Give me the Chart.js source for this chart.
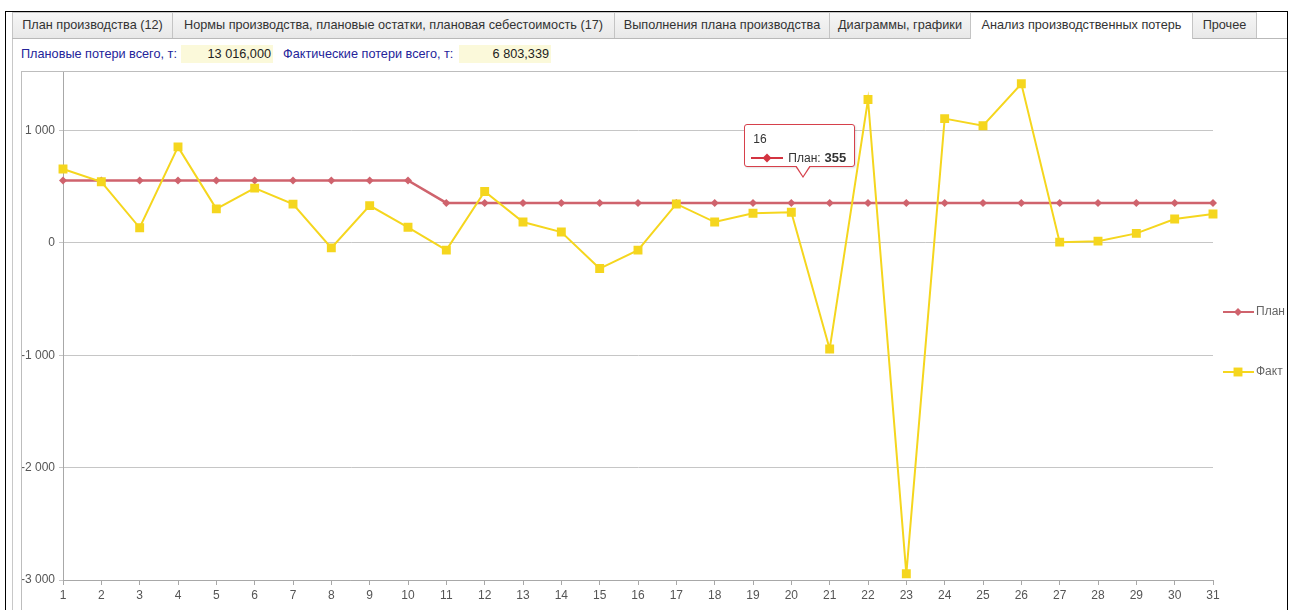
<!DOCTYPE html>
<html>
<head>
<meta charset="utf-8">
<script src="https://cdn.jsdelivr.net/npm/chart.js@4.4.1/dist/chart.umd.min.js"></script>
<style>
  body { margin: 0; background: #fff; font-family: "Liberation Sans", Arial, sans-serif; font-size: 12.7px; overflow: hidden; }
  #frame { position: absolute; left: 5px; top: 11px; width: 1281px; height: 640px; border: 1px solid #000; border-bottom: none; }
  .tab { position: absolute; top: 12px; height: 25px; line-height: 25px; border: 1px solid #c4c4c4; border-bottom: none;
         background: linear-gradient(#f6f6f6, #e8e8e8); color: #333; text-align: center; box-sizing: content-box; }
  .tab.active { background: #fff; height: 26px; z-index: 2; }
  #tabline { position: absolute; left: 12px; top: 38px; width: 1275px; border-top: 1px solid #b9b9b9; }
  #pageleft { position: absolute; left: 12px; top: 38px; height: 600px; border-left: 1px solid #c8c8c8; }
  .lbl { position: absolute; top: 46px; line-height: 17px; color: #24249a; }
  .fld { position: absolute; top: 45px; height: 18px; line-height: 18px; width: 90px; padding-right: 2px; text-align: right;
         background: #fbf9da; color: #222; }
  #panel { position: absolute; left: 21px; top: 71px; border-left: 1px solid #bdbdbd; border-top: 1px solid #bdbdbd; }
  #panel canvas { display: block; }
  #tip { position: absolute; display: none; width: 109px; height: 41px; border: 1px solid #d6404b; border-radius: 3px;
         background: #fff; color: #333; font-size: 12px; box-shadow: 1px 1px 2px rgba(0,0,0,0.12); z-index: 5; }
  #tip .t { position: absolute; left: 8px; top: 7px; line-height: 14px; }
  #tip .r { position: absolute; left: 6px; top: 25px; height: 16px; display: flex; align-items: center; white-space: nowrap; }
  #tip .sw { width: 32px; height: 10px; margin-right: 5px; }
  #tip .v { font-size: 13px; margin-left: 4px; }
  #tip .caret, #tip .caret-in { position: absolute; width: 0; height: 0; border-style: solid; border-color: transparent; }
  #tip .caret { left: 50px; top: 41px; border-width: 12px 8px 0 8px; border-top-color: #d6404b; }
  #tip .caret-in { left: 51px; top: 40px; border-width: 11px 7px 0 7px; border-top-color: #fff; }
</style>
</head>
<body>
<div id="frame"></div>
<div id="pageleft"></div>
<div id="tabline"></div>
<div class="tab" style="left:12px;width:159px;">План производства (12)</div>
<div class="tab" style="left:172px;width:441px;">Нормы производства, плановые остатки, плановая себестоимость (17)</div>
<div class="tab" style="left:614px;width:214px;">Выполнения плана производства</div>
<div class="tab" style="left:829px;width:140px;">Диаграммы, графики</div>
<div class="tab active" style="left:970px;width:221px;">Анализ производственных потерь</div>
<div class="tab" style="left:1192px;width:63px;">Прочее</div>

<div class="lbl" style="left:21px;">Плановые потери всего, т:</div>
<div class="fld" style="left:181px;">13 016,000</div>
<div class="lbl" style="left:283px;">Фактические потери всего, т:</div>
<div class="fld" style="left:459px;">6 803,339</div>

<div id="panel">
  <canvas id="lossChart" width="1265" height="538"></canvas>
  <div id="tip"><div class="t"></div><div class="r"><canvas class="sw" width="32" height="10"></canvas><span class="n"></span><b class="v"></b></div><i class="caret"></i><i class="caret-in"></i></div>
</div>

<script>
const days = ['1','2','3','4','5','6','7','8','9','10','11','12','13','14','15','16',
              '17','18','19','20','21','22','23','24','25','26','27','28','29','30','31'];
const planLoss = [555, 555, 555, 555, 555, 555, 555, 555, 555, 555,
                  355, 355, 355, 355, 355, 355, 355, 355, 355, 355,
                  355, 355, 355, 355, 355, 355, 355, 355, 355, 355, 355];
const factLoss = [657, 543, 134, 854, 302, 487, 344, -45, 331, 138,
                  -65, 457, 185, 96, -229, -65, 346, 185, 263, 272,
                  -945, 1275, -2945, 1105, 1042, 1415, 6, 15, 84, 212, 257];
const yTicks = [-3000, -2000, -1000, 0, 1000];

function fmt(v) {
  const s = String(Math.abs(Math.round(v))).replace(/\B(?=(\d{3})+(?!\d))/g, ' ');
  return (v < 0 ? '-' : '') + s;
}

Chart.defaults.font.family = '"Liberation Sans", Arial, sans-serif';
Chart.defaults.font.size = 12;

// tooltip sits where it was left in the screenshot
Chart.Tooltip.positioners.pinned = function (items) {
  if (!items.length) return false;
  const c = this.chart;
  return { x: c.scales.x.getPixelForValue(19) + 12, y: items[0].element.y - 24 };
};

function drawTip(context) {
  const { chart, tooltip } = context;
  const el = document.getElementById('tip');
  if (tooltip.opacity === 0 || !tooltip.dataPoints || !tooltip.dataPoints.length) { el.style.display = 'none'; return; }
  const dp = tooltip.dataPoints[0];
  const ds = dp.dataset;
  el.querySelector('.t').textContent = tooltip.title[0];
  el.querySelector('.n').textContent = ds.label + ':';
  el.querySelector('.v').textContent = fmt(dp.parsed.y);
  const sw = el.querySelector('.sw').getContext('2d');
  sw.clearRect(0, 0, 32, 10);
  sw.strokeStyle = '#d33441'; sw.lineWidth = 2;
  sw.beginPath(); sw.moveTo(0, 5); sw.lineTo(32, 5); sw.stroke();
  sw.fillStyle = '#d33441';
  Chart.helpers.drawPoint(sw, { pointStyle: ds.pointStyle, radius: 4.5, borderWidth: 0 }, 16, 5);
  el.style.left = (tooltip.caretX - 59) + 'px';
  el.style.top = (tooltip.caretY - 55) + 'px';
  el.style.display = 'block';
}

const sideLegend = {
  id: 'sideLegend',
  afterDraw(chart) {
    const ctx = chart.ctx, area = chart.chartArea;
    const rows = [240, 300];
    chart.data.datasets.forEach((ds, i) => {
      const x0 = area.right + 10, y = rows[i];
      ctx.save();
      ctx.strokeStyle = ds.borderColor;
      ctx.lineWidth = 2;
      ctx.beginPath(); ctx.moveTo(x0, y); ctx.lineTo(x0 + 31, y); ctx.stroke();
      ctx.fillStyle = ds.pointBackgroundColor;
      Chart.helpers.drawPoint(ctx, { pointStyle: ds.pointStyle, radius: ds.pointRadius, borderWidth: 0 }, x0 + 15, y);
      ctx.fillStyle = '#666';
      ctx.font = '12px "Liberation Sans", Arial, sans-serif';
      ctx.textBaseline = 'middle';
      ctx.fillText(ds.label, x0 + 33, y);
      ctx.restore();
    });
  }
};

const chart = new Chart(document.getElementById('lossChart'), {
  type: 'line',
  data: {
    labels: days,
    datasets: [{
      label: 'План',
      data: planLoss,
      borderColor: '#cf636d',
      backgroundColor: '#cf636d',
      pointBackgroundColor: '#cf636d',
      borderWidth: 2.5,
      pointStyle: 'rectRot',
      pointRadius: 4,
      pointBorderWidth: 0,
      tension: 0,
      order: 1
    }, {
      label: 'Факт',
      data: factLoss,
      borderColor: '#f5d61e',
      backgroundColor: '#f5d61e',
      pointBackgroundColor: '#f5d61e',
      borderWidth: 2,
      pointStyle: 'rect',
      pointRadius: 6.3,
      pointBorderWidth: 0,
      tension: 0,
      order: 0
    }]
  },
  options: {
    responsive: false,
    animation: false,
    events: [],
    layout: { autoPadding: false, padding: { left: 0, top: 0, right: 74, bottom: 0 } },
    plugins: {
      legend: { display: false },
      tooltip: { enabled: false, external: drawTip, position: 'pinned', mode: 'nearest' }
    },
    scales: {
      x: {
        offset: false,
        grid: { drawOnChartArea: false, tickLength: 5, color: '#a8a8a8' },
        border: { color: '#a8a8a8' },
        ticks: { color: '#555', padding: 3, maxRotation: 0, autoSkip: false },
        afterFit(s) { s.height = 30; s.paddingLeft = 0; s.paddingRight = 0; }
      },
      y: {
        min: -3000,
        max: 1520,
        grid: { color: '#c6c6c6', tickLength: 4 },
        border: { color: '#a8a8a8' },
        ticks: { color: '#555', padding: 4, stepSize: 1000, callback: v => fmt(v) },
        afterBuildTicks(s) { s.ticks = yTicks.map(v => ({ value: v })); },
        afterFit(s) { s.width = 41; s.paddingTop = 0; s.paddingBottom = 0; }
      }
    }
  },
  plugins: [sideLegend]
});

chart.tooltip.setActiveElements([{ datasetIndex: 0, index: 15 }], { x: 0, y: 0 });
chart.update();
</script>
</body>
</html>
